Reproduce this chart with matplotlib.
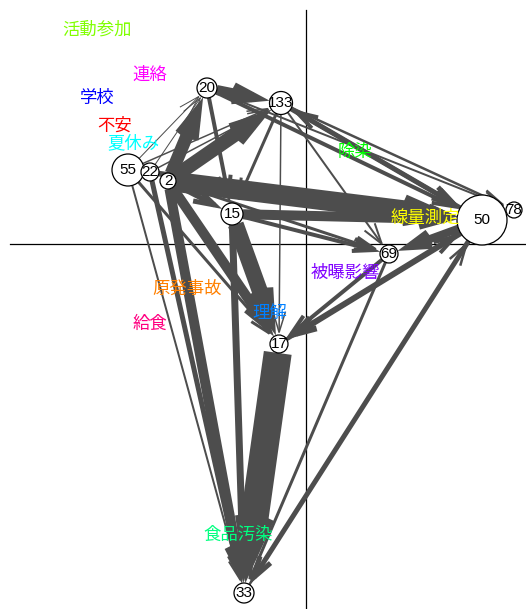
import matplotlib
matplotlib.use("Agg")
import matplotlib.pyplot as plt
from matplotlib.patches import Circle

plt.rcParams['font.family'] = ['Noto Sans CJK JP', 'DejaVu Sans']

# cluster nodes: id, position, radius
node_ids = ['20', '133', '55', '22', '2', '15', '50', '78', '69', '17', '33']
node_x = [-0.99, -0.25, -1.78, -1.56, -1.38, -0.74, 1.76, 2.08, 0.83, -0.27, -0.62]
node_y = [1.56, 1.41, 0.74, 0.72, 0.63, 0.30, 0.24, 0.34, -0.10, -1.00, -3.49]
node_r = [0.10, 0.115, 0.16, 0.09, 0.08, 0.11, 0.25, 0.08, 0.09, 0.09, 0.10]

# word positions
words = ['活動参加', '連絡', '学校', '不安', '夏休み', '除染', '線量測定',
         '被曝影響', '原発事故', '給食', '理解', '食品汚染']
word_x = [-2.09, -1.56, -2.09, -1.91, -1.73, 0.49, 1.19, 0.39, -1.19, -1.56, -0.36, -0.68]
word_y = [2.14, 1.69, 1.46, 1.18, 1.01, 0.92, 0.26, -0.29, -0.45, -0.80, -0.69, -2.91]
word_colors = ['#80FF00', '#FF00FF', '#0000FF', '#FF0000', '#00FFFF', '#00FF00', '#FFFF00',
               '#8000FF', '#FF8000', '#FF0080', '#0080FF', '#00FF80']

# transitions between clusters (from, to, width in px)
edge_from = ['2', '15', '22', '55', '2', '2', '20', '22', '55', '55', '133', '20',
             '133', '20', '20', '133', '133', '133', '15', '2', '50', '15', '2',
             '17', '15', '2', '22', '55', '50', '69', '50', '69', '33', '17', '2', '50',
             '133', '22', '55']
edge_to = ['50', '50', '50', '50', '20', '133', '133', '20', '20', '133', '50', '50',
           '78', '78', '15', '17', '15', '69', '69', '69', '69', '17', '17',
           '33', '33', '33', '33', '33', '17', '17', '33', '33', '50', '50', '15', '133',
           '50', '133', '17']
edge_w = [20, 10, 5, 4, 13, 14, 10, 1, 1, 1.5, 5, 4,
          2.5, 2, 4, 1.5, 3, 2, 4, 3, 8, 16, 10,
          28, 7, 10, 5, 2, 6, 4, 5, 3, 2.5, 4, 5, 4,
          3, 1.5, 3]

fig = plt.figure(figsize=(5.26, 6.09), dpi=100)
ax = fig.add_axes([0, 0, 1, 1])
ax.set_xlim(-3.06, 2.20)
ax.set_ylim(-3.65, 2.44)
ax.axis('off')

# axes through origin
ax.plot([0, 0], [-3.65, 2.34], color='black', lw=0.9, zorder=1)
ax.plot([-2.96, 2.20], [0, 0], color='black', lw=0.9, zorder=1)

pos = {n: (x, y) for n, x, y in zip(node_ids, node_x, node_y)}
rad = dict(zip(node_ids, node_r))

for a, b, w in zip(edge_from, edge_to, edge_w):
    ax.annotate('', xy=pos[b], xytext=pos[a],
                arrowprops=dict(arrowstyle='->,head_length=1.5,head_width=0.45',
                                color='#4D4D4D', lw=w * 0.72,
                                joinstyle='miter', capstyle='butt',
                                shrinkA=rad[a] * 72, shrinkB=rad[b] * 72),
                zorder=2)

for w, x, y, c in zip(words, word_x, word_y, word_colors):
    ax.text(x, y, w, color=c, fontsize=12.5, ha='center', va='center', zorder=4)

for n, x, y, r in zip(node_ids, node_x, node_y, node_r):
    ax.add_patch(Circle((x, y), r, facecolor='white', edgecolor='black', lw=0.9, zorder=3))
    ax.text(x, y, n, fontsize=11, ha='center', va='center', family='Liberation Sans', zorder=5)

fig.savefig('out.png', dpi=100)
